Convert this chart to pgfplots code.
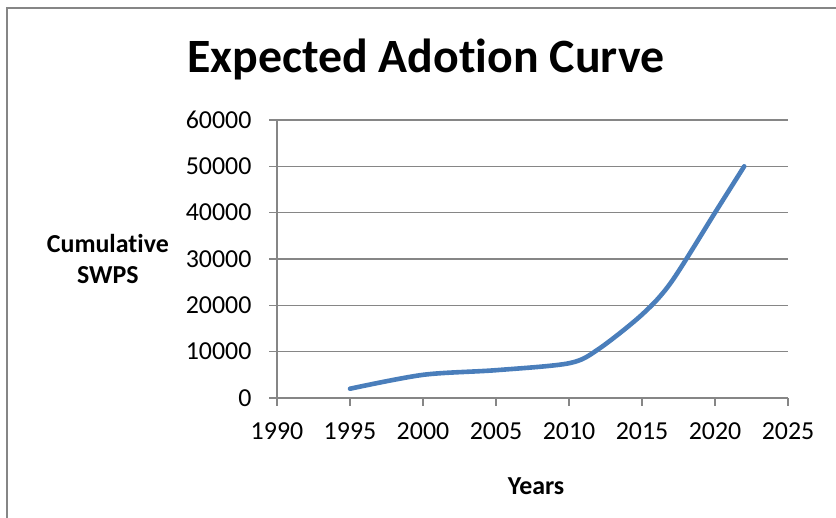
\documentclass[border=0pt]{standalone}
\usepackage{fontspec}
\setmainfont{Carlito}[Ligatures=NoCommon]
\usepackage{pgfplots}
\pgfplotsset{compat=1.18}

\definecolor{seriesblue}{HTML}{4A7EBB}
\definecolor{gridgray}{HTML}{868686}

\begin{document}
\begin{tikzpicture}[x=1bp,y=1bp]
  \useasboundingbox (0,0) rectangle (836,518);
  % chart frame
  \draw[gridgray, line width=1.4bp] (7,-10) -- (7,510) -- (846,510);
  % chart title
  \node[anchor=base, font=\bfseries\fontsize{48}{57}\selectfont] at (426,445) {Expected Adotion Curve};

  \begin{axis}[
    at={(277bp,120bp)}, anchor=south west,
    width=511bp, height=278bp, scale only axis,
    xmin=1990, xmax=2025, ymin=0, ymax=60000,
    xtick={1990,1995,...,2025},
    ytick={0,10000,...,60000},
    axis x line=bottom, axis y line=left,
    axis line style={-, gridgray, line width=1.5bp},
    tick align=outside, major tick length=8bp,
    tick style={gridgray, line width=1.5bp},
    ymajorgrids, grid style={gridgray, line width=1.5bp},
    /pgf/number format/assume math mode=true,
    /pgf/number format/1000 sep={},
    scaled y ticks=false, scaled x ticks=false,
    ticklabel style={font=\fontsize{26}{31}\selectfont},
    xticklabel style={yshift=-13bp},
    yticklabel style={xshift=-14bp},
    xlabel={Years},
    xlabel style={at={(axis description cs:0.507,-0.347)}, anchor=base,
      font=\bfseries\fontsize{26}{31}\selectfont},
    ylabel={Cumulative\\SWPS},
    ylabel style={rotate=-90, at={(axis description cs:-0.331,0.5)}, anchor=center,
      align=center, font=\bfseries\fontsize{26}{31}\selectfont},
  ]
    \addplot[seriesblue, line width=4.6bp, smooth, line cap=round, line join=round]
      coordinates {
        (1995,2000) (2000,5000) (2005,6000) (2010,7500) (2012,10500)
        (2015,18000) (2017,25000) (2020,40000) (2022,50000)
      };
  \end{axis}
\end{tikzpicture}
\end{document}
